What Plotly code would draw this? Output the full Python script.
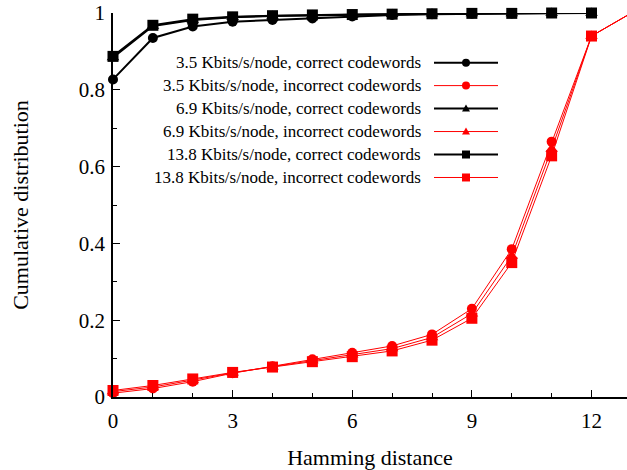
import plotly.graph_objects as go

hamming = list(range(0, 14))
x_correct = list(range(0, 13))

c35_correct = [0.827, 0.935, 0.965, 0.977, 0.982, 0.986, 0.991, 0.995, 0.997, 0.998, 0.999, 1.0, 1.0]
c35_incorrect = [0.010, 0.022, 0.040, 0.062, 0.080, 0.098, 0.115, 0.133, 0.163, 0.230, 0.385, 0.665, 0.940, 1.0]
c69_correct = [0.884, 0.966, 0.982, 0.989, 0.992, 0.994, 0.995, 0.997, 0.998, 0.999, 0.999, 1.0, 1.0]
c69_incorrect = [0.014, 0.026, 0.044, 0.063, 0.079, 0.095, 0.110, 0.126, 0.155, 0.217, 0.367, 0.646, 0.940, 1.0]
c138_correct = [0.887, 0.968, 0.984, 0.990, 0.993, 0.995, 0.996, 0.997, 0.998, 0.999, 0.999, 1.0, 1.0]
c138_incorrect = [0.017, 0.030, 0.047, 0.064, 0.078, 0.092, 0.105, 0.120, 0.148, 0.205, 0.350, 0.628, 0.940, 1.0]

labels = [
    "3.5 Kbits/s/node, correct codewords",
    "3.5 Kbits/s/node, incorrect codewords",
    "6.9 Kbits/s/node, correct codewords",
    "6.9 Kbits/s/node, incorrect codewords",
    "13.8 Kbits/s/node, correct codewords",
    "13.8 Kbits/s/node, incorrect codewords",
]

series = [
    (x_correct, c35_correct, "black", "circle", 2, 10),
    (hamming, c35_incorrect, "red", "circle", 1, 10),
    (x_correct, c69_correct, "black", "triangle-up", 2, 11),
    (hamming, c69_incorrect, "red", "triangle-up", 1, 11),
    (x_correct, c138_correct, "black", "square", 2, 11),
    (hamming, c138_incorrect, "red", "square", 1, 11),
]

fig = go.Figure()
for (xs, ys, col, sym, lw, ms), lab in zip(series, labels):
    fig.add_trace(go.Scatter(
        x=xs, y=ys, mode="lines+markers", name=lab,
        line=dict(color=col, width=lw),
        marker=dict(color=col, symbol=sym, size=ms, line=dict(width=0)),
        cliponaxis=False, showlegend=False,
    ))

# plot area in pixels
L, R, T, B = 113, 627, 13, 397.5
W, H = R - L, B - T
def px(x):
    return (x - L) / W
def py(y):
    return (B - y) / H

shapes = []
annotations = []
for i, ((xs, ys, col, sym, lw, ms), lab) in enumerate(zip(series, labels)):
    yrow = 62.7 + 23 * i
    annotations.append(dict(
        x=px(423), y=py(yrow), xref="paper", yref="paper", text=lab,
        showarrow=False, xanchor="right", yanchor="middle",
        font=dict(family="Liberation Serif", size=17, color="black"),
    ))
    shapes.append(dict(type="line", xref="paper", yref="paper",
                       x0=px(434), x1=px(498), y0=py(yrow), y1=py(yrow),
                       line=dict(color=col, width=lw)))
    s = 4
    cx, cy = px(466), py(yrow)
    if sym == "circle":
        shapes.append(dict(type="circle", xref="paper", yref="paper",
                           xsizemode="pixel", ysizemode="pixel", xanchor=cx, yanchor=cy,
                           x0=-s, x1=s, y0=-s, y1=s, fillcolor=col, line=dict(width=0)))
    elif sym == "square":
        shapes.append(dict(type="rect", xref="paper", yref="paper",
                           xsizemode="pixel", ysizemode="pixel", xanchor=cx, yanchor=cy,
                           x0=-s, x1=s, y0=-s, y1=s, fillcolor=col, line=dict(width=0)))
    else:
        shapes.append(dict(type="path", xref="paper", yref="paper",
                           xsizemode="pixel", ysizemode="pixel", xanchor=cx, yanchor=cy,
                           path=f"M {-s} {-s+1} L {s} {-s+1} L 0 {s} Z", fillcolor=col, line=dict(width=0)))

fig.update_layout(
    width=627, height=470,
    margin=dict(l=L, r=0, t=T, b=470 - B),
    plot_bgcolor="white", paper_bgcolor="white",
    font=dict(family="Liberation Serif", size=21, color="black"),
    shapes=shapes, annotations=annotations,
    showlegend=False,
)
fig.update_xaxes(
    range=[0, 12.89], tick0=0, dtick=3, ticks="inside", ticklen=7, tickwidth=1,
    tickcolor="black", showline=True, linecolor="black", linewidth=1.5,
    showgrid=False, zeroline=False, automargin=False, ticklabelstandoff=4,
    ticklabeloverflow="allow",
    minor=dict(dtick=1, ticks="inside", ticklen=4, tickcolor="black", showgrid=False),
    title=dict(text="Hamming distance", font=dict(size=22), standoff=18),
)
fig.update_yaxes(
    range=[0, 1], tick0=0, dtick=0.2, ticks="inside", ticklen=7, tickwidth=1,
    tickcolor="black", showline=True, linecolor="black", linewidth=1.5,
    showgrid=False, zeroline=False, tickformat="~g", automargin=False,
    ticklabelstandoff=2, ticklabeloverflow="allow",
    minor=dict(dtick=0.1, ticks="inside", ticklen=4, tickcolor="black", showgrid=False),
    title=dict(text="Cumulative distribution", font=dict(size=22), standoff=44),
)
fig.write_html("out.html", config={"displayModeBar": False},
               post_script="document.body.style.margin='0';")
